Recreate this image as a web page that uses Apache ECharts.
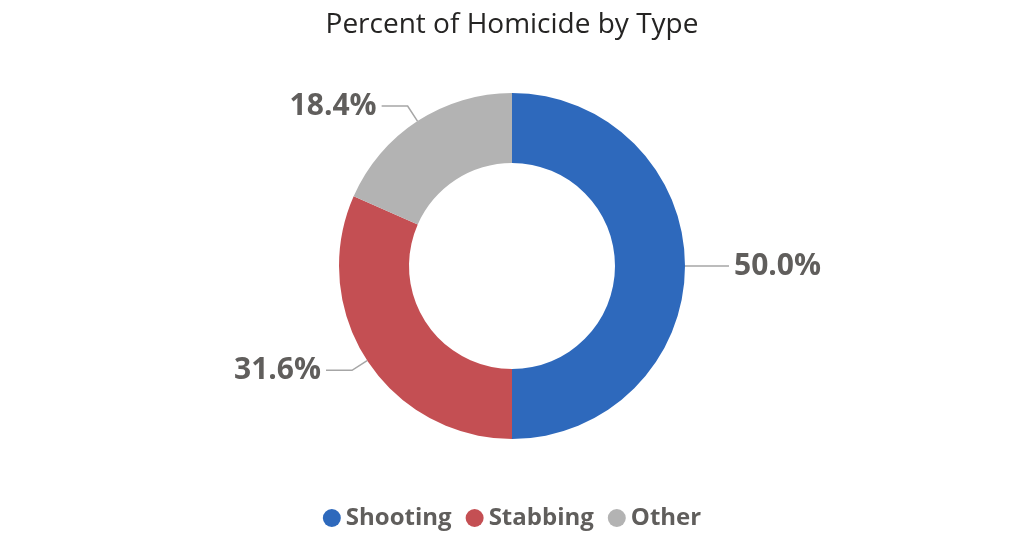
<!DOCTYPE html>
<html>
<head>
<meta charset="utf-8">
<script src="https://cdn.jsdelivr.net/npm/echarts@6/dist/echarts.min.js"></script>
<style>html,body{margin:0;padding:0;background:#ffffff;}#c{width:1024px;height:552px;}</style>
</head>
<body>
<div id="c"></div>
<script>
var categories = ['Shooting', 'Stabbing', 'Other'];
var values = [50.0, 31.6, 18.4];
var colors = ['#2E69BC', '#C44F53', '#B3B3B3'];

var chart = echarts.init(document.getElementById('c'));
chart.setOption({
  backgroundColor: '#ffffff',
  animation: false,
  title: {
    text: 'Percent of Homicide by Type',
    left: 'center',
    top: 6,
    textStyle: { fontFamily: 'Open Sans', fontWeight: 500, fontSize: 28, color: '#252423' }
  },
  legend: {
    bottom: 17,
    left: 'center',
    icon: 'circle',
    itemWidth: 18,
    itemHeight: 18,
    itemGap: 14,
    data: categories,
    textStyle: { fontFamily: 'Open Sans', fontWeight: 'bold', fontSize: 24, color: '#605E5C' }
  },
  series: [{
    type: 'pie',
    center: [512, 266],
    radius: [103, 173],
    startAngle: 90,
    clockwise: true,
    color: colors,
    label: {
      show: true,
      position: 'outside',
      formatter: function (p) { return p.value.toFixed(1) + '%'; },
      fontFamily: 'Open Sans',
      fontWeight: 'bold',
      fontSize: 30,
      color: '#605E5C'
    },
    labelLine: {
      show: true,
      length: 18,
      length2: 26,
      lineStyle: { color: '#A6A6A6', width: 1.5 }
    },
    data: categories.map(function (c, i) { return { name: c, value: values[i] }; })
  }]
});
</script>
</body>
</html>
